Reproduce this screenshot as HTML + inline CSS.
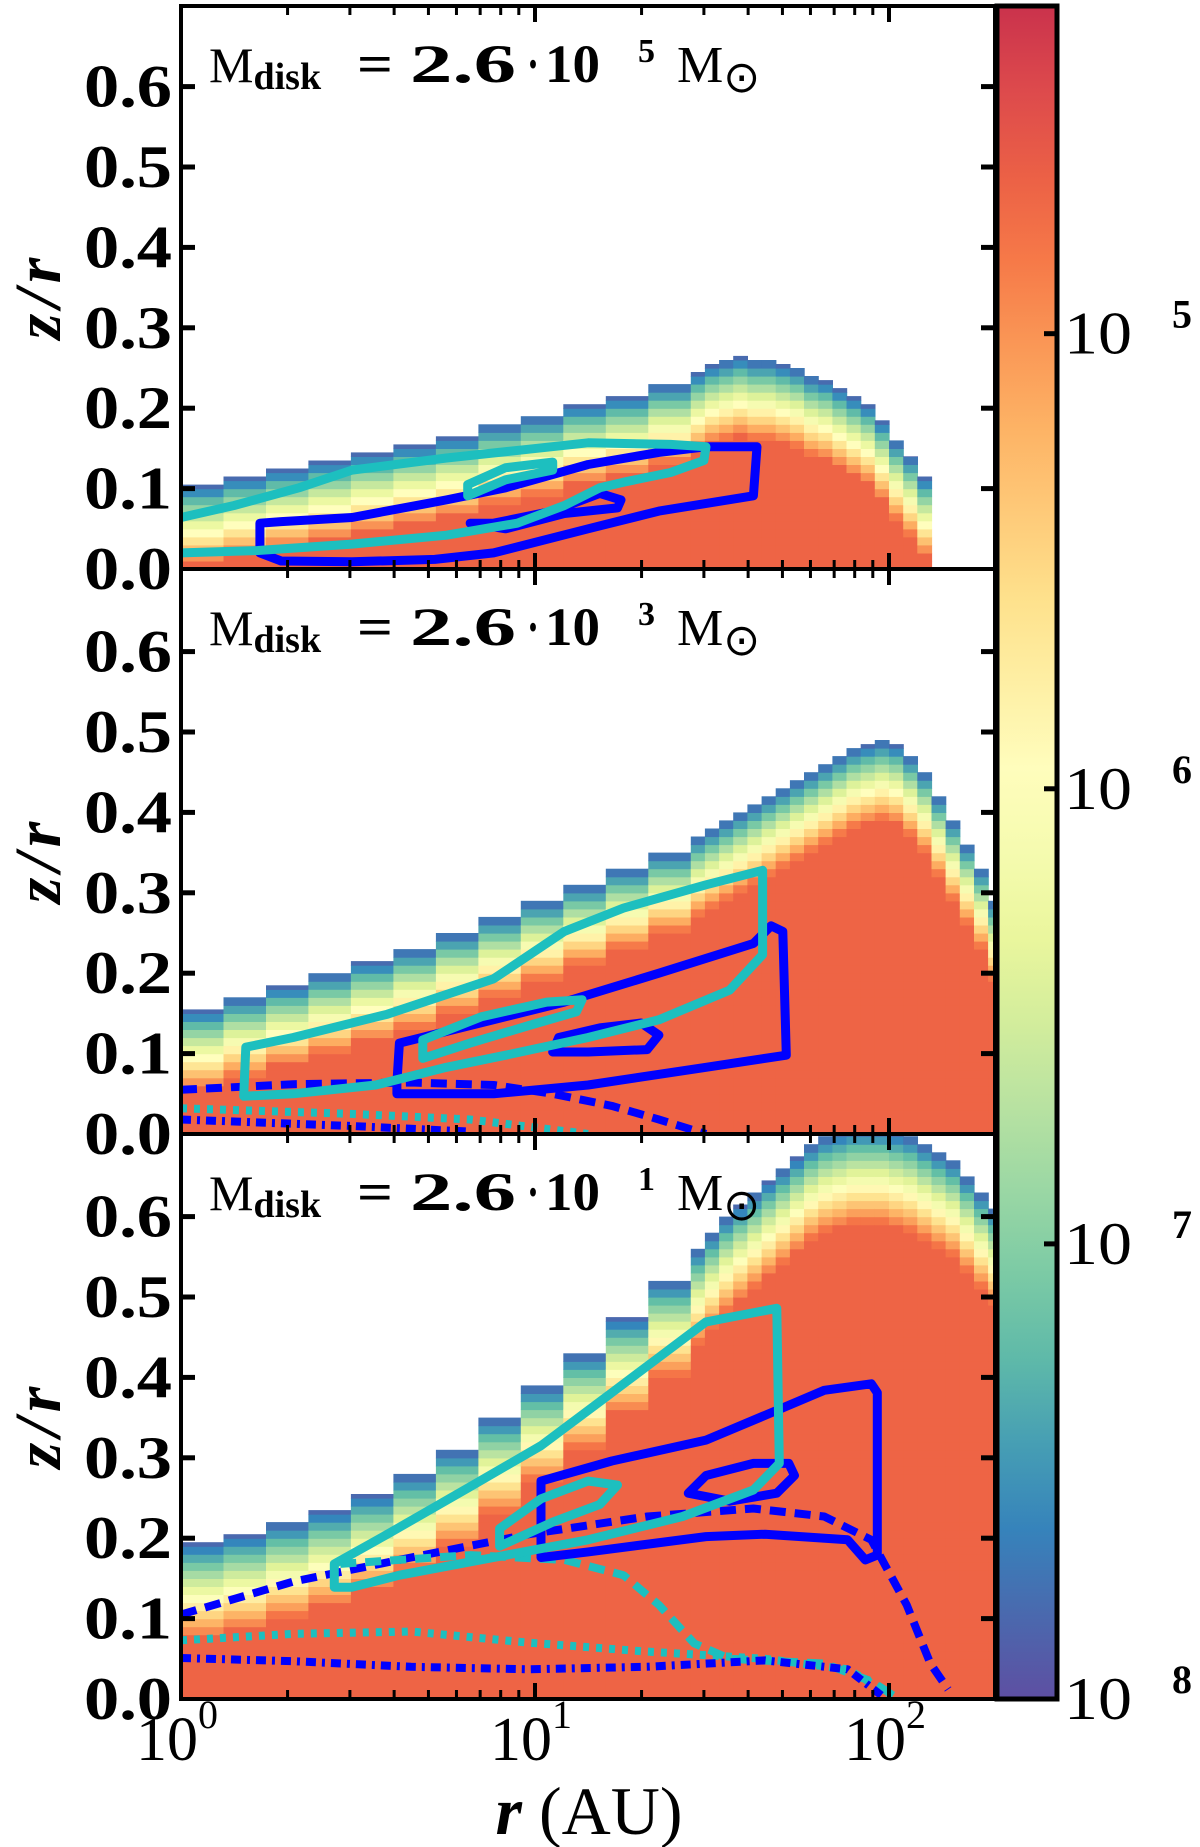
<!DOCTYPE html>
<html><head><meta charset="utf-8"><style>
html,body{margin:0;padding:0;background:#fff;}
svg{display:block;}
text{font-family:"Liberation Serif",serif;fill:#000;}
</style></head><body>
<svg id="chart" width="1200" height="1847" viewBox="0 0 1200 1847" xmlns="http://www.w3.org/2000/svg">
<defs>
<linearGradient id="cbgrad" x1="0" y1="0" x2="0" y2="1"></linearGradient>
<clipPath id="clip0"><rect x="181" y="6" width="814" height="563"/></clipPath>
<clipPath id="clip1"><rect x="181" y="569" width="814" height="565"/></clipPath>
<clipPath id="clip2"><rect x="181" y="1134" width="814" height="565"/></clipPath>
</defs>
<g id="layer"></g>
</svg>
<script>
// ---- data ----
const massExponents = ["5","3","1"];
const colStartLogR = [0,0.12,0.24,0.36,0.48,0.6,0.72,0.84,0.96,1.08,1.2,1.32,1.44,1.48,1.52,1.56,1.6,1.64,1.68,1.72,1.76,1.8,1.84,1.88,1.92,1.96,2.0,2.04,2.08,2.12,2.16,2.2,2.24,2.28];
const topP1 = [0.105,0.115,0.125,0.135,0.145,0.155,0.165,0.18,0.19,0.205,0.215,0.23,0.245,0.255,0.26,0.265,0.26,0.26,0.255,0.25,0.24,0.235,0.225,0.215,0.205,0.185,0.16,0.14,0.115,0,0,0,0,0];
const topP2 = [0.155,0.17,0.185,0.2,0.215,0.23,0.25,0.27,0.29,0.31,0.33,0.35,0.37,0.38,0.39,0.4,0.41,0.42,0.43,0.44,0.45,0.46,0.47,0.48,0.485,0.49,0.485,0.47,0.45,0.42,0.39,0.36,0.33,0.29];
const topP3 = [0.195,0.205,0.22,0.235,0.255,0.28,0.31,0.35,0.39,0.43,0.475,0.52,0.56,0.58,0.6,0.615,0.63,0.645,0.66,0.675,0.69,0.7,0.705,0.71,0.71,0.71,0.705,0.7,0.69,0.68,0.67,0.65,0.63,0.61];
const yTicks = [0,0.1,0.2,0.3,0.4,0.5,0.6];
const yTickLabels = ["0.0","0.1","0.2","0.3","0.4","0.5","0.6"];
const xTickExp = ["0","1","2"];
const cbTickExp = ["5","6","7","8"];
const cbTickLog = [-5,-6,-7,-8];

const p1BlueOuterLR=[0.223,0.223,0.283,0.483,0.717,0.883,1.15,1.35,1.617,1.627,1.483,1.35,1.15,0.917,0.75,0.483,0.283,0.223];
const p1BlueOuterZ=[0.057,0.020,0.010,0.009,0.012,0.020,0.050,0.072,0.091,0.152,0.152,0.145,0.130,0.101,0.086,0.064,0.059,0.057];
const p1BlueInnerLR=[0.817,0.917,1.083,1.233,1.243,1.183,1.05,0.883,0.817];
const p1BlueInnerZ=[0.057,0.050,0.069,0.076,0.086,0.094,0.072,0.057,0.057];
const p1CyanOuterLR=[0,0.15,0.333,0.483,0.75,0.983,1.15,1.383,1.483,1.477,1.383,1.25,1.183,1.083,0.95,0.75,0.483,0.217,0];
const p1CyanOuterZ=[0.064,0.079,0.101,0.123,0.138,0.149,0.157,0.155,0.152,0.135,0.12,0.108,0.101,0.079,0.057,0.042,0.031,0.023,0.02];
const p1CyanInnerLR=[0.81,0.917,1.05,1.05,0.917,0.81,0.81];
const p1CyanInnerZ=[0.091,0.111,0.123,0.133,0.126,0.105,0.091];

const p2BlueOuterLR=[0.61,0.617,0.817,1.083,1.35,1.617,1.667,1.7,1.71,1.483,1.15,0.883,0.61,0.61];
const p2BlueOuterZ=[0.064,0.113,0.135,0.164,0.2,0.237,0.259,0.252,0.098,0.083,0.061,0.05,0.05,0.064];
const p2BlueInnerLR=[1.05,1.067,1.183,1.3,1.35,1.317,1.15,1.05];
const p2BlueInnerZ=[0.102,0.12,0.132,0.138,0.123,0.105,0.102,0.102];
const p2CyanOuterLR=[0.177,0.183,0.317,0.583,0.883,1.083,1.25,1.483,1.643,1.643,1.55,1.35,1.15,0.917,0.75,0.55,0.317,0.177];
const p2CyanOuterZ=[0.047,0.108,0.12,0.149,0.193,0.252,0.281,0.31,0.328,0.223,0.179,0.142,0.12,0.098,0.083,0.061,0.05,0.047];
const p2CyanInnerLR=[0.683,0.683,0.85,1.033,1.133,1.117,0.983,0.817,0.683];
const p2CyanInnerZ=[0.094,0.117,0.146,0.164,0.167,0.152,0.135,0.113,0.094];
const p2BlueDashLR=[0,0.317,0.65,0.883,1.05,1.217,1.35,1.483];
const p2BlueDashZ=[0.055,0.062,0.064,0.061,0.05,0.035,0.018,0];
const p2CyanDotLR=[0,0.483,0.817,1.15];
const p2CyanDotZ=[0.032,0.025,0.018,0];
const p2BlueDashDotLR=[0,0.483,0.817];
const p2BlueDashDotZ=[0.018,0.01,0.003];

const p3BlueOuterLR=[1.017,1.017,1.217,1.483,1.683,1.817,1.95,1.967,1.967,1.933,1.883,1.65,1.483,1.15,1.017];
const p3BlueOuterZ=[0.176,0.271,0.296,0.322,0.359,0.384,0.392,0.381,0.179,0.173,0.198,0.205,0.202,0.183,0.176];
const p3BlueInnerLR=[1.433,1.483,1.617,1.717,1.733,1.683,1.55,1.433];
const p3BlueInnerZ=[0.256,0.278,0.293,0.293,0.278,0.256,0.246,0.256];
const p3CyanOuterLR=[0.433,0.433,0.583,0.817,1.017,1.217,1.35,1.483,1.683,1.69,1.617,1.417,1.15,0.883,0.617,0.483,0.433];
const p3CyanOuterZ=[0.139,0.168,0.205,0.264,0.315,0.381,0.425,0.469,0.486,0.293,0.26,0.227,0.198,0.176,0.154,0.139,0.139];
const p3CyanInnerLR=[0.9,0.9,1.017,1.15,1.233,1.183,1.05,0.9];
const p3CyanInnerZ=[0.19,0.212,0.249,0.271,0.266,0.242,0.22,0.19];
const p3BlueDashLR=[0,0.317,0.65,0.983,1.317,1.617,1.817,1.95,2.05,2.117,2.167];
const p3BlueDashZ=[0.105,0.146,0.176,0.205,0.227,0.237,0.227,0.198,0.117,0.044,0.012];
const p3CyanDashLR=[0.45,0.817,1.083,1.25,1.35,1.45,1.55,1.817,1.95,2.017];
const p3CyanDashZ=[0.168,0.179,0.173,0.154,0.117,0.069,0.05,0.044,0.022,0.003];
const p3CyanDashDotLR=[0,0.317,0.65,0.983,1.317,1.65,1.883,2.017];
const p3CyanDashDotZ=[0.073,0.081,0.084,0.07,0.059,0.05,0.037,0.003];
const p3BlueDashDotLR=[0,0.317,0.65,0.983,1.317,1.65,1.883,1.983];
const p3BlueDashDotZ=[0.051,0.047,0.04,0.037,0.04,0.048,0.037,0.003];

// ---- rendering ----
const NS="http://www.w3.org/2000/svg";
const layer=document.getElementById('layer');
const X0=181,X1=995,DEC=354,SC=804;
const panelBottoms=[569,1134,1699];
const panelTops=[6,569,1134];
function xs(lr){return X0+lr*DEC;}
function ys(p,z){return panelBottoms[p]-z*SC;}
function mk(tag,attrs,parent){const e=document.createElementNS(NS,tag);for(const k in attrs)e.setAttribute(k,attrs[k]);(parent||layer).appendChild(e);return e;}
const spectral=[[94,79,162],[50,136,189],[102,194,165],[171,221,164],[230,245,152],[255,255,191],[254,224,139],[253,174,97],[244,109,67],[213,62,79],[158,1,66]];
function cmap(p){p=Math.max(0,Math.min(1,p))*10;const i=Math.min(9,Math.floor(p)),f=p-i;const a=spectral[i],b=spectral[i+1];
return 'rgb('+a.map((v,k)=>Math.round(v+(b[k]-v)*f)).join(',')+')';}

const tops=[topP1,topP2,topP3];
const bands=[0.1,0.1,0.12];
for(let p=0;p<3;p++){
  const g=mk('g',{'clip-path':'url(#clip'+p+')'});
  
  
  for(let c=0;c<colStartLogR.length;c++){
    const top=tops[p][c]; if(top<=0) continue;
    const xa=xs(colStartLogR[c]); const xb=c+1<colStartLogR.length?xs(colStartLogR[c+1]):X1;
    const dz=0.01;
    for(let z=0;z<Math.min(top,0.72);z+=dz){
      const zt=Math.min(z+dz,top);
      const t=Math.max(0,Math.min(1,(top-(z+zt)/2)/bands[p]));
      const r=mk('rect',{x:xa.toFixed(1),y:ys(p,zt).toFixed(1),width:(xb-xa+0.6).toFixed(1),height:((zt-z)*SC+0.6).toFixed(1),fill:cmap(0.03+0.79*t)},g);
      
      
    }
  }
}
function line(p,lrs,zs,color,dash,name){
  const pts=lrs.map((l,i)=>xs(l).toFixed(1)+','+ys(p,zs[i]).toFixed(1)).join(' ');
  const e=mk('polyline',{points:pts,fill:'none',stroke:color,'stroke-width':dash?8:9,'stroke-linejoin':'round','stroke-linecap':dash?'butt':'round','clip-path':'url(#clip'+p+')'});
  if(dash)e.setAttribute('stroke-dasharray',dash);
  
  
}
const B='#0000ff',C='#1dbfbf';
line(0,p1BlueOuterLR,p1BlueOuterZ,B,null,'p1-blue-outer-contour');
line(0,p1BlueInnerLR,p1BlueInnerZ,B,null,'p1-blue-inner-contour');
line(0,p1CyanOuterLR,p1CyanOuterZ,C,null,'p1-cyan-outer-contour');
line(0,p1CyanInnerLR,p1CyanInnerZ,C,null,'p1-cyan-inner-contour');
line(1,p2BlueDashLR,p2BlueDashZ,B,'16 9','p2-blue-dashed');
line(1,p2CyanDotLR,p2CyanDotZ,C,'6 7','p2-cyan-dotted');
line(1,p2BlueDashDotLR,p2BlueDashDotZ,B,'10 6 3 6','p2-blue-dashdot');
line(1,p2BlueOuterLR,p2BlueOuterZ,B,null,'p2-blue-outer-contour');
line(1,p2BlueInnerLR,p2BlueInnerZ,B,null,'p2-blue-inner-contour');
line(1,p2CyanOuterLR,p2CyanOuterZ,C,null,'p2-cyan-outer-contour');
line(1,p2CyanInnerLR,p2CyanInnerZ,C,null,'p2-cyan-inner-contour');
line(2,p3BlueDashLR,p3BlueDashZ,B,'16 9','p3-blue-dashed');
line(2,p3CyanDashLR,p3CyanDashZ,C,'16 9','p3-cyan-dashed');
line(2,p3CyanDashDotLR,p3CyanDashDotZ,C,'6 7','p3-cyan-dotted');
line(2,p3BlueDashDotLR,p3BlueDashDotZ,B,'10 6 3 6','p3-blue-dashdot');
line(2,p3BlueOuterLR,p3BlueOuterZ,B,null,'p3-blue-outer-contour');
line(2,p3BlueInnerLR,p3BlueInnerZ,B,null,'p3-blue-inner-contour');
line(2,p3CyanOuterLR,p3CyanOuterZ,C,null,'p3-cyan-outer-contour');
line(2,p3CyanInnerLR,p3CyanInnerZ,C,null,'p3-cyan-inner-contour');

// axes
for(let p=0;p<3;p++){
  const yt=panelTops[p],yb=panelBottoms[p];
  for(let d=0;d<=2;d++){for(let k=1;k<=9;k++){
    const lr=d+Math.log10(k); if(lr>2.301) continue;
    const x=xs(lr),L=k==1?16:9,w=k==1?4:3;
    const t1=mk('line',{x1:x,x2:x,y1:yb,y2:yb-L,stroke:'#000','stroke-width':w});
    
    
    const t2=mk('line',{x1:x,x2:x,y1:yt,y2:yt+L,stroke:'#000','stroke-width':w});
    
    
  }}
  yTicks.forEach((v,i)=>{
    const y=ys(p,v);
    if(v>0){
      const a=mk('line',{x1:X0,x2:X0+14,y1:y,y2:y,stroke:'#000','stroke-width':5});
      
      
      const b=mk('line',{x1:X1,x2:X1-14,y1:y,y2:y,stroke:'#000','stroke-width':5});
      
      
    }
    const t=mk('text',{x:84,y:(y+20).toFixed(1),'font-size':60,'font-weight':'bold',textLength:88,lengthAdjust:'spacingAndGlyphs'});
    t.textContent=yTickLabels[i];
    
    
  });
  const fr=mk('rect',{x:X0,y:yt,width:X1-X0,height:yb-yt,fill:'none',stroke:'#000','stroke-width':4});
  
  
  const yl=mk('text',{transform:'translate(60,'+((yt+yb)/2+8)+') rotate(-90)','text-anchor':'middle','font-size':66,'font-weight':'bold','font-style':'italic','letter-spacing':6});
  yl.textContent='z/r';
  
  
  const by=yt+76;
  const tt=mk('text',{x:209,y:by,'font-size':50});
  tt.innerHTML='M<tspan font-size="38" font-weight="bold" dy="7">disk</tspan>';
  
  
  const parts=[['=',357,36],['2.6',410,106],['·',527,12],['10',545,55]];
  parts.forEach(pt=>{
    const e=mk('text',{x:pt[1],y:by,'font-size':54,'font-weight':'bold',textLength:pt[2],lengthAdjust:'spacingAndGlyphs'});
    e.textContent=pt[0];
    
    
  });
  const ex=mk('text',{x:638,y:by-20,'font-size':34,'font-weight':'bold'});
  ex.textContent=massExponents[p];
  
  
  const ms=mk('text',{x:677,y:by,'font-size':52});
  ms.innerHTML='M<tspan font-size="44" dy="10">⊙</tspan>';
  
  
}
xTickExp.forEach((e,i)=>{
  const x=xs(i);
  const t=mk('text',{x:x-45,y:1760,'font-size':62});
  t.innerHTML='10<tspan font-size="40" dy="-32">'+e+'</tspan>';
  
  
});
const xl=mk('text',{x:589,y:1834,'text-anchor':'middle','font-size':68});
xl.innerHTML='<tspan font-style="italic" font-weight="bold">r</tspan> (AU)';



// colorbar
const CB_TOP=6,CB_BOT=1699,CB_MIN=-8,CB_MAX=-4.28;
function cbY(l){return CB_BOT-(l-CB_MIN)/(CB_MAX-CB_MIN)*(CB_BOT-CB_TOP);}
const grad=document.getElementById('cbgrad');
for(let i=0;i<=20;i++){const s=document.createElementNS(NS,'stop');s.setAttribute('offset',i/20);s.setAttribute('stop-color',cmap(0.92*(1-i/20)));grad.appendChild(s);}
const cb=mk('rect',{x:997,y:CB_TOP,width:60,height:CB_BOT-CB_TOP,fill:'url(#cbgrad)',stroke:'#000','stroke-width':5});


cbTickLog.forEach((l,i)=>{
  const y=cbY(l);
  const t=mk('line',{x1:1057,x2:1044,y1:y,y2:y,stroke:'#000','stroke-width':5});
  
  
  const tx=mk('text',{x:1064,y:y+20,'font-size':60,textLength:68,lengthAdjust:'spacingAndGlyphs'});
  tx.textContent='10';
  
  
  const sx=mk('text',{x:1172,y:y-6,'font-size':40,'font-weight':'bold'});
  sx.textContent=cbTickExp[i];
  
  
});
</script>
</body></html>
